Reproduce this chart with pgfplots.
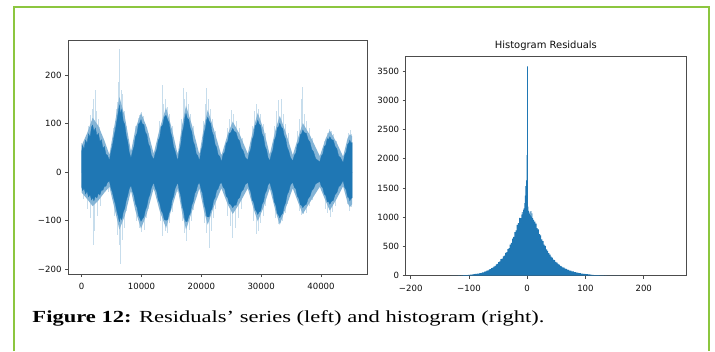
\documentclass[border=0pt]{standalone}
\usepackage{fontspec}
\setmainfont{Liberation Serif}
\newfontfamily\dejavu{DejaVu Sans}
\newfontfamily\capfont[FakeStretch=1.33]{Liberation Serif}
\usepackage{pgfplots}
\pgfplotsset{compat=1.18}
\definecolor{c0}{HTML}{1F77B4}
\definecolor{framegreen}{HTML}{8CC63F}
\pgfplotsset{mpl/.style={
  scale only axis, anchor=south west,
  axis line style={black!70, line width=0.8bp},
  every tick/.style={black!70, line width=0.6bp},
  tick align=outside, major tick length=3bp,
  xtick pos=bottom, ytick pos=left,
  scaled x ticks=false, scaled y ticks=false,
  tick label style={font=\fontsize{8.6}{9}\dejavu, text=black!95},
  xticklabel style={yshift=-2.5bp},
}}
\begin{document}
\begin{tikzpicture}[x=1bp,y=1bp]
\path[use as bounding box] (0,0) rectangle (715,351);
\fill[white] (0,0) rectangle (715,351);
\draw[framegreen, line width=1.5bp] (14,0) -- (14,344) -- (709,344) -- (709,0);

% ---------------- residual series ----------------
\begin{axis}[mpl, at={(68bp,77bp)}, width=299bp, height=234bp,
  xmin=-2285, xmax=47690, ymin=-209.5, ymax=272,
  xtick={0,10000,20000,30000,40000}, xticklabels={0,10000,20000,30000,40000},
  ytick={-200,-100,0,100,200}, yticklabels={−200,−100,0,100,200}]
% isolated spikes (light)
\addplot[ycomb, draw=c0!25, line width=0.45bp] coordinates {
(0,60) (300,-55) (700,70) (1100,95) (1500,118) (1800,130) (2000,150) (2200,169) (2450,125) (2700,110) (3000,92)
(900,-75) (1400,-95) (1900,-150) (2150,-120) (2600,-90) (3100,-70) (4000,45) (4400,-40)
(5300,90) (5700,130) (5900,145) (6150,185) (6350,254) (6550,170) (6800,160) (7100,125) (7400,95)
(5500,-90) (5900,-130) (6200,-150) (6400,-188) (6700,-140) (7100,-115) (7500,-80) (8200,45) (8400,-42)
(9000,95) (9400,112) (9700,118) (10000,124) (10300,115) (10700,100) (11100,80)
(9200,-100) (9600,-115) (10000,-124) (10400,-118) (10800,-95) (11200,-75) (11900,40) (12100,-38)
(13000,105) (13400,180) (13700,140) (14000,150) (14300,135) (14700,120) (15100,95)
(13200,-100) (13500,-131) (13900,-120) (14300,-125) (14700,-105) (15100,-82) (16000,42) (15900,-40)
(16700,110) (17000,173) (17200,150) (17500,165) (17800,140) (18200,120) (18600,95)
(16800,-100) (17100,-126) (17500,-141) (17900,-118) (18300,-100) (18700,-78) (19600,40) (19800,-38)
(20300,105) (20600,140) (20900,173) (21200,150) (21500,130) (21900,110) (22300,85)
(20500,-105) (20900,-125) (21300,-157) (21600,-120) (22000,-95) (22400,-75) (23300,38) (23500,-36)
(24300,90) (24700,110) (25000,128) (25400,120) (25800,105) (26300,90) (26800,70)
(24400,-90) (24800,-110) (25200,-136) (25600,-115) (26100,-95) (26600,-75) (27700,40) (27900,-36)
(28500,95) (28900,125) (29200,141) (29500,131) (29900,120) (30300,100) (30700,80)
(28700,-100) (29100,-127) (29500,-120) (29900,-105) (30300,-90) (30700,-70) (31400,38) (31600,-36)
(32200,95) (32600,125) (32900,148) (33300,151) (33700,120) (34100,100) (34500,80)
(32400,-95) (32800,-107) (33200,-104) (33600,-100) (34000,-85) (34400,-65) (35200,36) (35400,-34)
(36000,85) (36400,110) (36700,150) (36900,176) (37200,120) (37600,105) (38100,90) (38600,70)
(36300,-80) (36700,-89) (37100,-86) (37500,-84) (38000,-70) (38500,-58) (39700,34) (39900,-32)
(40600,65) (41000,80) (41300,89) (41700,85) (42100,78) (42500,64)
(40700,-75) (41100,-85) (41500,-93) (41900,-82) (42300,-70) (43600,32) (43800,-30)
(44300,62) (44600,80) (44900,86) (45100,78)
(44400,-65) (44700,-79) (45000,-72)
};
% fringe (less dense region), upper and lower
\addplot[fill=c0!55, draw=none] coordinates {
(0,55) (900,80) (1839,112) (2800,95) (3800,65) (4632,36)
(5400,90) (6304,155) (7200,115) (8244,42)
(9000,90) (9916,122) (10900,92) (12040,38)
(13050,90) (14097,133) (15100,88) (16054,36)
(16800,98) (17441,137) (18400,98) (19682,36)
(20450,95) (21070,128) (22050,90) (23361,34)
(24400,78) (25250,104) (26400,78) (27759,38)
(28750,92) (29431,122) (30400,88) (31438,36)
(32450,90) (33110,116) (34100,82) (35284,35)
(36300,76) (36957,101) (38150,76) (39799,33)
(40800,70) (41472,86) (42650,60) (43696,32)
(44450,70) (44816,78) (45200,74)
} \closedcycle;
\addplot[fill=c0!55, draw=none] coordinates {
(0,-42) (900,-55) (1839,-70) (2800,-58) (3800,-42) (4632,-30)
(5400,-70) (6304,-118) (7200,-90) (8244,-38)
(9000,-80) (9916,-116) (10900,-85) (12040,-33)
(13050,-80) (14097,-115) (15100,-72) (16054,-33)
(16800,-84) (17441,-118) (18400,-82) (19682,-33)
(20450,-80) (21070,-108) (22050,-72) (23361,-33)
(24400,-66) (25250,-86) (26400,-64) (27759,-33)
(28750,-76) (29431,-101) (30400,-72) (31438,-33)
(32450,-82) (33110,-108) (34100,-74) (35284,-33)
(36300,-66) (36957,-86) (38150,-62) (39799,-30)
(40800,-60) (41472,-79) (42650,-54) (43696,-29)
(44450,-63) (44816,-72) (45200,-66)
} \closedcycle;
% dense core: upper envelope
\addplot[fill=c0, draw=c0, line width=0.3bp] coordinates {
(0,42) (150,55) (400,47) (650,66) (900,59) (1150,79) (1400,72) (1650,93) (1839,97) (2050,84) (2300,91) (2550,75) (2800,80) (3050,63) (3300,67) (3550,49) (3800,53) (4050,37) (4300,35) (4632,24)
(4900,42) (5150,55) (5400,73) (5650,88) (5900,107) (6100,122) (6304,138) (6500,120) (6700,129) (6950,105) (7200,98) (7450,75) (7700,62) (7950,41) (8244,29)
(8500,43) (8750,53) (9000,73) (9250,80) (9500,99) (9700,101) (9916,108) (10150,99) (10400,98) (10650,82) (10900,77) (11150,58) (11400,52) (11650,35) (12040,26)
(12300,39) (12550,47) (12800,65) (13050,72) (13300,93) (13550,97) (13800,113) (14097,117) (14350,108) (14600,102) (14850,83) (15100,72) (15350,53) (15600,44) (16054,23)
(16300,43) (16550,55) (16800,81) (17050,93) (17250,112) (17441,121) (17650,111) (17900,108) (18150,91) (18400,83) (18650,63) (18900,55) (19150,38) (19400,34) (19682,23)
(19950,43) (20200,55) (20450,79) (20700,91) (20900,108) (21070,113) (21300,105) (21550,100) (21800,83) (22050,75) (22300,57) (22550,51) (22800,36) (23100,32) (23361,21)
(23650,37) (23900,41) (24150,59) (24400,63) (24650,79) (24900,81) (25250,90) (25500,84) (25800,82) (26100,69) (26400,64) (26700,49) (27000,44) (27350,30) (27759,25)
(28000,39) (28250,47) (28500,67) (28750,75) (29000,95) (29200,98) (29431,107) (29650,99) (29900,96) (30150,79) (30400,72) (30650,53) (30900,46) (31150,30) (31438,23)
(31700,37) (31950,45) (32200,65) (32450,73) (32700,91) (32900,93) (33110,101) (33350,93) (33600,90) (33850,75) (34100,68) (34350,51) (34600,44) (34900,30) (35284,23)
(35550,35) (35800,39) (36050,57) (36300,61) (36550,77) (36750,79) (36957,87) (37250,81) (37550,80) (37850,67) (38150,62) (38450,47) (38750,42) (39100,28) (39799,21)
(40050,33) (40300,37) (40550,53) (40800,55) (41050,69) (41250,67) (41472,73) (41750,67) (42050,66) (42350,53) (42650,48) (42950,33) (43250,30) (43696,19)
(43950,35) (44200,41) (44450,57) (44650,60) (44816,66) (45000,60) (45200,61)
} \closedcycle;
% dense core: lower envelope
\addplot[fill=c0, draw=c0, line width=0.3bp] coordinates {
(0,-30) (150,-38) (400,-33) (650,-45) (900,-39) (1150,-51) (1400,-46) (1650,-57) (1839,-52) (2050,-59) (2300,-49) (2550,-53) (2800,-43) (3050,-47) (3300,-37) (3550,-37) (3800,-29) (4050,-29) (4300,-21) (4632,-18)
(4900,-33) (5150,-42) (5400,-55) (5650,-66) (5900,-81) (6100,-90) (6304,-102) (6500,-92) (6700,-98) (6950,-82) (7200,-74) (7450,-58) (7700,-48) (7950,-34) (8244,-27)
(8500,-39) (8750,-48) (9000,-65) (9250,-72) (9500,-89) (9700,-94) (9916,-101) (10150,-96) (10400,-92) (10650,-78) (10900,-70) (11150,-54) (11400,-46) (11650,-32) (12040,-21)
(12300,-33) (12550,-40) (12800,-57) (13050,-64) (13300,-79) (13550,-84) (13800,-97) (14097,-99) (14350,-98) (14600,-84) (14850,-77) (15100,-58) (15350,-50) (15600,-34) (16054,-21)
(16300,-37) (16550,-48) (16800,-69) (17050,-80) (17250,-97) (17441,-102) (17650,-101) (17900,-90) (18150,-84) (18400,-68) (18650,-60) (18900,-44) (19150,-38) (19400,-26) (19682,-21)
(19950,-35) (20200,-44) (20450,-65) (20700,-76) (20900,-91) (21070,-92) (21300,-92) (21550,-80) (21800,-74) (22050,-58) (22300,-52) (22550,-38) (22800,-34) (23100,-24) (23361,-21)
(23650,-31) (23900,-34) (24150,-49) (24400,-52) (24650,-65) (24900,-66) (25250,-73) (25500,-68) (25800,-68) (26100,-56) (26400,-52) (26700,-40) (27000,-36) (27350,-25) (27759,-21)
(28000,-33) (28250,-40) (28500,-57) (28750,-62) (29000,-77) (29200,-80) (29431,-87) (29650,-82) (29900,-80) (30150,-66) (30400,-60) (30650,-44) (30900,-38) (31150,-26) (31438,-21)
(31700,-33) (31950,-42) (32200,-61) (32450,-68) (32700,-85) (32900,-88) (33110,-94) (33350,-88) (33600,-84) (33850,-70) (34100,-62) (34350,-46) (34600,-40) (34900,-26) (35284,-21)
(35550,-31) (35800,-34) (36050,-49) (36300,-54) (36550,-67) (36750,-68) (36957,-73) (37250,-68) (37550,-66) (37850,-54) (38150,-50) (38450,-38) (38750,-34) (39100,-24) (39799,-19)
(40050,-29) (40300,-32) (40550,-45) (40800,-48) (41050,-61) (41250,-60) (41472,-66) (41750,-60) (42050,-58) (42350,-46) (42650,-42) (42950,-30) (43250,-27) (43696,-17)
(43950,-31) (44200,-36) (44450,-51) (44650,-52) (44816,-59) (45000,-54) (45200,-53)
} \closedcycle;
\end{axis}

% ---------------- histogram ----------------
\begin{axis}[mpl, at={(405.7bp,75.3bp)}, width=280.3bp, height=219.7bp,
  xmin=-208.6, xmax=272.6, ymin=0, ymax=3756,
  xtick={-200,-100,0,100,200}, xticklabels={−200,−100,0,100,200},
  ytick={0,500,1000,1500,2000,2500,3000,3500},
  yticklabels={0,500,1000,1500,2000,2500,3000,3500},
  title={Histogram Residuals},
  title style={font=\fontsize{10}{12}\dejavu, anchor=base, at={(0.5,1)}, yshift=2bp, inner sep=0pt, text=black!95}]
\addplot[const plot, fill=c0, draw=none] coordinates {
(-130,1) (-128,0) (-126,2) (-124,1) (-122,3) (-120,2) (-118,5) (-116,3) (-114,6) (-112,5) (-110,9) (-108,8) (-106,11) (-104,12) (-102,15) (-100,16) (-98,19) (-96,20) (-94,24) (-92,25) (-90,30) (-88,30) (-86,36) (-84,37) (-82,44) (-80,46) (-78,55) (-76,56) (-74,69) (-72,72) (-70,86) (-68,90) (-66,108) (-64,114) (-62,130) (-60,137) (-58,156) (-56,166) (-54,193) (-52,202) (-50,232) (-48,244) (-46,282) (-44,290) (-42,330) (-40,345) (-38,390) (-36,402) (-34,455) (-32,470) (-30,532) (-28,560) (-26,634) (-24,662) (-22,745) (-20,775) (-18,868) (-16,900) (-14,990) (-12,985)
(-10,1045) (-9,1085) (-8,1050) (-7,1125) (-6,1150) (-5,1240) (-4,1370) (-3,1530) (-2,1630) (-1,2060) (0,3580) (1,1180) (2,1110) (3,1060) (4,1095) (5,1030) (6,1105) (7,1010) (8,1065) (9,985)
(10,955) (12,925) (14,890) (16,812) (18,790) (20,712) (22,690) (24,620) (26,590) (28,530) (30,508) (32,448) (34,426) (36,384) (38,360) (40,325) (42,310) (44,276) (46,266) (48,236) (50,224) (52,202) (54,190) (56,167) (58,161) (60,143) (62,138) (64,122) (66,118) (68,103) (70,100) (72,87) (74,86) (76,75) (78,73) (80,63) (82,62) (84,53) (86,52) (88,44) (90,43) (92,37) (94,37) (96,31) (98,31) (100,26) (102,26) (104,21) (106,21) (108,17) (110,15) (112,13) (114,12) (116,10) (118,10) (120,8) (122,8) (124,6) (126,6) (128,5) (130,5) (132,3) (134,4) (136,3) (138,2) (140,3) (142,1) (144,2) (146,0) (148,2) (150,0) (152,1) (154,0) (156,0) (158,1) (160,0)
} \closedcycle;
\end{axis}

\node[anchor=base west, inner sep=0pt] at (32.3,29)
  {\fontsize{17}{20}\capfont\textbf{Figure 12:} Residuals’ series (left) and histogram (right).};
\end{tikzpicture}
\end{document}
